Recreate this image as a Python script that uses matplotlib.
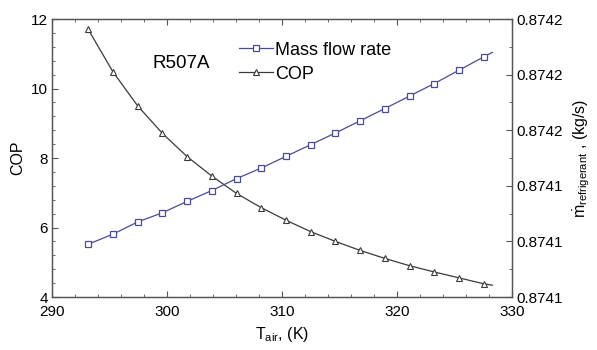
import numpy as np
import matplotlib.pyplot as plt
from matplotlib.ticker import AutoMinorLocator, MultipleLocator, FormatStrFormatter

plt.rcParams['font.family'] = ['Liberation Sans', 'DejaVu Sans']
plt.rcParams['mathtext.fontset'] = 'custom'
plt.rcParams['mathtext.rm'] = 'Liberation Sans'
plt.rcParams['mathtext.it'] = 'Liberation Sans'

# air temperature (K)
t_air = [293.15, 295.3, 297.45, 299.6, 301.75, 303.9, 306.05, 308.2, 310.35,
         312.5, 314.65, 316.8, 318.95, 321.1, 323.25, 325.4, 327.55, 328.3]
# coefficient of performance
cop = [11.70, 10.48, 9.50, 8.71, 8.04, 7.48, 6.98, 6.57, 6.21,
       5.88, 5.60, 5.34, 5.11, 4.90, 4.72, 4.55, 4.38, 4.34]
# refrigerant mass flow rate (kg/s)
m_ref = [0.874119, 0.8741226, 0.874127, 0.8741303, 0.8741344, 0.8741383,
         0.8741426, 0.8741464, 0.8741506, 0.8741548, 0.874159, 0.8741634,
         0.8741678, 0.8741723, 0.8741768, 0.8741816, 0.8741864, 0.874188]

blue = '#4a4a9c'
dark = '#3a3a3a'
n_mark = list(range(len(t_air) - 1))

fig = plt.figure(figsize=(5.97, 3.5), dpi=100)
ax = fig.add_axes([0.0871, 0.1514, 0.7705, 0.7943])
ax2 = ax.twinx()

l1, = ax2.plot(t_air, m_ref, '-s', color=blue, lw=0.9, ms=4.5, mfc='white',
               mec=blue, mew=0.9, markevery=n_mark, label='Mass flow rate')
l2, = ax.plot(t_air, cop, '-^', color=dark, lw=0.9, ms=4.5, mfc='white',
              mec=dark, mew=0.8, markevery=n_mark, label='COP')

ax.set_xlim(290, 330)
ax.set_ylim(4, 12)
ax2.set_ylim(0.87410, 0.87420)

ax.xaxis.set_major_locator(MultipleLocator(10))
ax.xaxis.set_minor_locator(AutoMinorLocator(5))
ax.yaxis.set_major_locator(MultipleLocator(2))
ax.yaxis.set_minor_locator(AutoMinorLocator(5))
ax2.yaxis.set_major_locator(MultipleLocator(0.00002))
ax2.yaxis.set_minor_locator(AutoMinorLocator(2))
ax2.yaxis.set_major_formatter(FormatStrFormatter('%.4f'))

for a in (ax, ax2):
    a.tick_params(which='both', direction='in', labelsize=11, color='#555555')
    a.tick_params(which='major', length=4)
    a.tick_params(which='minor', length=2.5)
    for s in a.spines.values():
        s.set_color('#555555')
        s.set_linewidth(0.9)
ax.tick_params(top=True, which='both')
ax.tick_params(axis='x', pad=6)
ax.tick_params(axis='y', pad=3)
ax2.tick_params(pad=3)

ax.set_xlabel(r'T$_{\mathrm{air}}$, (K)', fontsize=11.5, labelpad=4)
ax.set_ylabel('COP', fontsize=11.5, labelpad=4)
ax2.set_ylabel(r'$\dot{\mathrm{m}}_{\mathrm{refrigerant}}$ , (kg/s)', fontsize=11.5,
               labelpad=6)

fig.text(152 / 597, 1 - 63 / 350, 'R507A', fontsize=13.5, va='center')

ax.legend(handles=[l1, l2], loc='upper left', bbox_to_anchor=(0.39, 0.945),
          frameon=False, fontsize=13, handlelength=1.9, handletextpad=0.1,
          labelspacing=0.4, borderaxespad=0)

fig.savefig('out.png', dpi=100)
